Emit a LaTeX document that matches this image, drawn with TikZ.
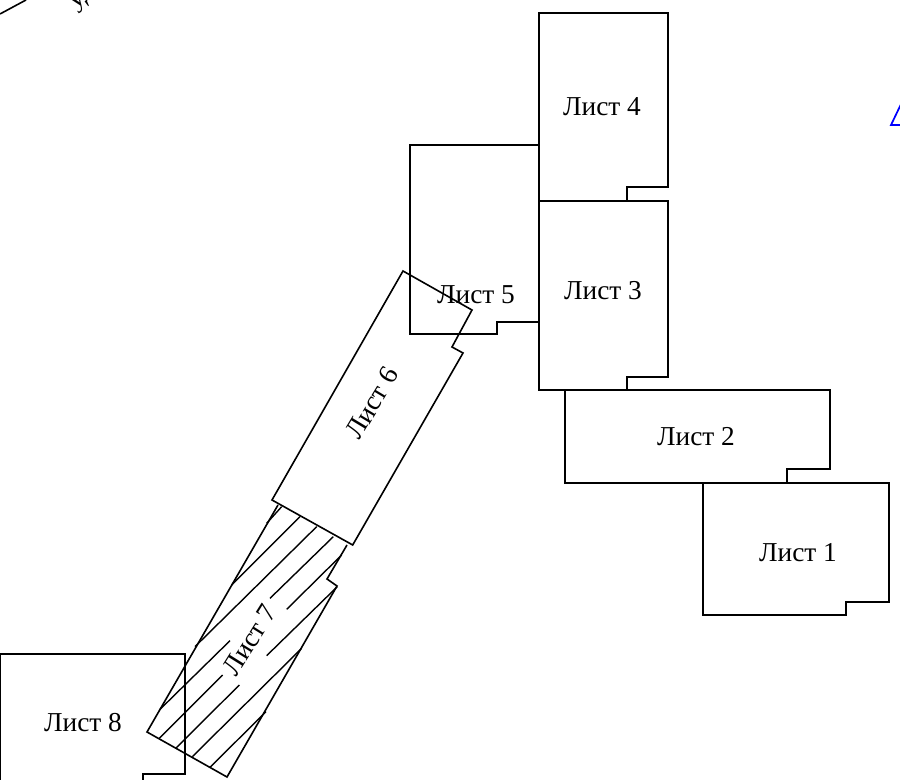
\documentclass[tikz,border=0pt]{standalone}
\usepackage{fontspec}
\setmainfont{Liberation Serif}
\begin{document}
\begin{tikzpicture}[x=0.75pt,y=-0.75pt,
  sheet/.style={draw=black,line width=1.2pt,line join=miter},
  hatch/.style={draw=black,line width=1.05pt},
  lbl/.style={font=\fontsize{20.5pt}{22pt}\selectfont,inner sep=0pt,text=black}]
\useasboundingbox (0,0) rectangle (900,780);
\clip (0,0) rectangle (900,780);
\fill[white] (0,0) rectangle (900,780);
% Hatching of sheet 7
\begin{scope}[shift={(130,490)},x=0.25pt,y=-0.25pt]
  \draw[hatch] (410,100)--(455,50);
  \draw[hatch] (305,285)--(510,80);
  \draw[hatch] (195,470)--(560,110);
  \draw[hatch] (88,660)--(300,452);
  \draw[hatch] (420,325)--(610,140);
  \draw[hatch] (88,745)--(278,555);
  \draw[hatch] (470,358)--(635,195);
  \draw[hatch] (137,775)--(328,585);
  \draw[hatch] (410,497)--(622,290);
  \draw[hatch] (187,800)--(515,475);
  \draw[hatch] (240,832)--(408,665);
\end{scope}
% Sheets
\draw[sheet] (539,13)--(668,13)--(668,187)--(627,187)--(627,201)--(539,201)--cycle;
\draw[sheet] (539,201)--(668,201)--(668,377)--(627,377)--(627,390)--(539,390)--cycle;
\draw[sheet] (565,390)--(830,390)--(830,469)--(787,469)--(787,483)--(565,483)--cycle;
\draw[sheet] (703,483)--(889,483)--(889,602)--(846,602)--(846,615)--(703,615)--cycle;
\draw[sheet] (539,145)--(410,145)--(410,334)--(497,334)--(497,322)--(539,322);
\draw[sheet] (403,271)--(472,310)--(452,347)--(463,353)--(352.7,545)--(272,500)--cycle;
\draw[sheet] (278,505)--(147,732)--(227,777)--(337,586)--(327,579)--(347,545);
\draw[sheet] (0,790)--(0,654)--(185,654)--(185,774)--(143,774)--(143,790);
% Labels
\node[lbl] (l4) at (602,107) {Лист 4};
\node[lbl] (l3) at (603,291) {Лист 3};
\node[lbl] (l2) at (696,437) {Лист 2};
\node[lbl] (l1) at (798,553) {Лист 1};
\node[lbl] (l5) at (476,295) {Лист 5};
\node[lbl,rotate=59] (l6) at (372,403) {Лист 6};
\node[lbl,rotate=58] (l7) at (250,640) {Лист 7};
\node[lbl] (l8) at (83,723) {Лист 8};
% Cropped fragments at the edges
\draw[line width=1.2pt] (0,14)--(26,0);
\node[lbl,rotate=35] (frag) at (84,-1) {уд};
\draw[blue,line width=1.3pt] (903,125)--(891,125)--(903,100);
\end{tikzpicture}
\end{document}
